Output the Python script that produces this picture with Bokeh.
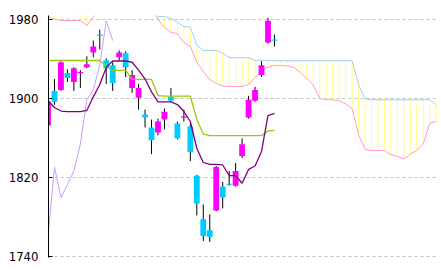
from bokeh.plotting import figure
from bokeh.models import Range1d, FixedTicker, ColumnDataSource
from bokeh.embed import file_html
from bokeh.resources import INLINE

# ---- candles (index 0..35) ----
opens  = [1873, 1908, 1909, 1926, 1917, 1926, 1932, 1947, 1965, 1939, 1934, 1942,
          1946, 1911, 1901, 1884, 1871, 1866, 1879, 1902, 1875, 1881, 1872, 1822,
          1778, 1767, 1787, 1811, 1814, 1812, 1842, 1881, 1898, 1924, 1957, 1960]
highs  = [1896, 1920, 1938, 1930, 1932, 1929, 1943, 1959, 1970, 1941, 1937, 1949,
          1948, 1929, 1915, 1889, 1879, 1880, 1890, 1911, 1877, 1889, 1875, 1823,
          1793, 1783, 1832, 1816, 1827, 1835, 1860, 1903, 1912, 1938, 1982, 1965]
lows   = [1860, 1894, 1908, 1917, 1908, 1911, 1931, 1942, 1950, 1915, 1908, 1939,
          1922, 1906, 1889, 1871, 1844, 1863, 1869, 1897, 1859, 1877, 1837, 1782,
          1756, 1755, 1786, 1789, 1812, 1811, 1840, 1880, 1897, 1922, 1956, 1953]
closes = [1896, 1897, 1937, 1921, 1931, 1927, 1935, 1953, 1964, 1931, 1916, 1947,
          1932, 1924, 1911, 1881, 1858, 1877, 1887, 1898, 1860, 1882, 1846, 1794,
          1761, 1760, 1831, 1800, 1813, 1827, 1854, 1899, 1909, 1934, 1979, 1959]

# ---- conversion line (purple) and base line (green), index 0..35 ----
tenkan = [1898.3, 1891.2, 1887.6, 1887.1, 1887.1, 1887.1, 1888.2, 1902.0, 1914.5,
          1931.7, 1938.3, 1938.3, 1938.3, 1937.0, 1929.0, 1920.0, 1907.0, 1896.8,
          1896.8, 1896.8, 1894.2, 1887.1, 1877.0, 1849.7, 1835.5, 1833.5, 1833.5,
          1833.0, 1822.3, 1822.3, 1814.5, 1828.5, 1832.0, 1846.7, 1883.0, 1885.2]
kijun = [1938.8, 1938.8, 1938.8, 1938.8, 1938.8, 1938.8, 1938.8, 1938.8, 1938.8,
         1932.7, 1928.7, 1928.7, 1928.7, 1919.6, 1919.6, 1919.6, 1919.6, 1903.3,
         1902.8, 1902.8, 1902.8, 1902.8, 1902.8, 1879.0, 1864.4, 1862.7, 1862.7,
         1862.7, 1862.7, 1862.7, 1862.7, 1862.7, 1862.7, 1862.7, 1867.4, 1868.0]

# ---- leading spans, index 0..60 ----
span_blue = [2010, 2010, 2010, 2010, 2010, 2010, 2010, 2010,
             2005, 2005, 2005, 2005, 2005, 2005, 2005, 2005,
             1992, 1983.5, 1983.3, 1981.3, 1977.3, 1973.2, 1972.7, 1954.0, 1949.0,
             1949.0, 1949.0, 1946.0, 1942.0, 1941.5, 1941.5, 1941.5, 1939.0, 1939.0,
             1938.5, 1938.5, 1938.5, 1938.5, 1938.5, 1938.5, 1938.5, 1938.5, 1938.5,
             1938.5, 1938.5, 1938.5, 1938.5, 1938.5, 1914.5, 1900.0,
             1899, 1899, 1899, 1899, 1899, 1899, 1899, 1899, 1899, 1899, 1894]
span_pink = [1983.5, 1980.8, 1979.3, 1979.3, 1979.3, 1979.3, 1974.2, 1983.0, 1991,
             1996, 1998, 1998, 1998, 1998, 1997, 1996, 1993, 1980.3, 1972.2, 1967.4,
             1965.8, 1957.0, 1953.0, 1937.0, 1927.6, 1919.5, 1915.5, 1913.0, 1912.5,
             1912.5, 1912.5, 1914.5, 1921.6, 1927.6, 1932.2, 1933.7, 1933.7, 1933.2,
             1931.7, 1926.6, 1920.6, 1914.0, 1900.3, 1899.0, 1899.0, 1898.0, 1895.0,
             1890.0, 1864.0, 1849.0, 1847.6, 1847.6, 1847.6, 1843.3, 1841.9, 1839.0,
             1844.0, 1847.6, 1854.2, 1875.3, 1877.0]

# ---- lagging span (lavender), index 0..10 ----
chikou = [1760, 1831, 1800, 1813, 1827, 1854, 1899, 1909, 1934, 1979, 1959]

y_ticks = [1740, 1820, 1900, 1980]

# ---------------------------------------------------------------
n = len(opens)
idx = list(range(n))
span_idx = list(range(len(span_blue)))
lag_idx = list(range(len(chikou)))

body_top, body_bot, body_col = [], [], []
for o, c in zip(opens, closes):
    t, b = max(o, c), min(o, c)
    if t - b < 1.2:
        m = (t + b) / 2.0
        t, b = m + 0.6, m - 0.6
    body_top.append(t)
    body_bot.append(b)
    body_col.append("#ff00ff" if c >= o else "#00ccff")

cs = ColumnDataSource(dict(x=idx, o=opens, h=highs, l=lows, c=closes,
                           top=body_top, bot=body_bot, col=body_col))

p = figure(width=441, height=270, output_backend="svg", toolbar_location=None,
           x_range=Range1d(0.077, 60.2), y_range=Range1d(1739.3, 1984.35),
           x_axis_location=None, title_location=None,
           min_border_left=48, min_border_right=4, min_border_top=15, min_border_bottom=13)
p.outline_line_color = None
p.background_fill_color = "white"
p.border_fill_color = "white"
p.xgrid.visible = False

ax = p.yaxis[0]
ax.ticker = FixedTicker(ticks=y_ticks)
ax.axis_line_color = "black"
ax.major_tick_line_color = "black"
ax.major_tick_in = 4
ax.major_tick_out = 0
ax.minor_tick_line_color = None
ax.major_label_standoff = 10
ax.major_label_text_font = "Liberation Sans Narrow, DejaVu Sans Condensed, Liberation Sans"
ax.major_label_text_font_size = "13px"
ax.major_label_text_color = "black"

g = p.ygrid[0]
g.ticker = FixedTicker(ticks=y_ticks)
g.grid_line_color = "#c0c0c0"
g.grid_line_dash = "3 3"
g.grid_line_width = 1

# cloud hatching
p.segment(x0=span_idx, y0=span_pink, x1=span_idx, y1=span_blue,
          line_color="#ffff80", line_width=1)
p.line(span_idx, span_blue, line_color="#99ccff", line_width=1)
p.line(span_idx, span_pink, line_color="#ff99cc", line_width=1)

# candles
p.segment(x0="x", y0="l", x1="x", y1="h", source=cs, line_color="black", line_width=1)
p.vbar(x="x", top="top", bottom="bot", width=0.9, source=cs,
       fill_color="col", line_color=None)

# lines
p.line(lag_idx, chikou, line_color="#cc99ff", line_width=1)
p.line(idx, kijun, line_color="#99cc00", line_width=1.3)
p.line(idx, tenkan, line_color="#800080", line_width=1.3)

open("out.html", "w").write(file_html(p, INLINE))
